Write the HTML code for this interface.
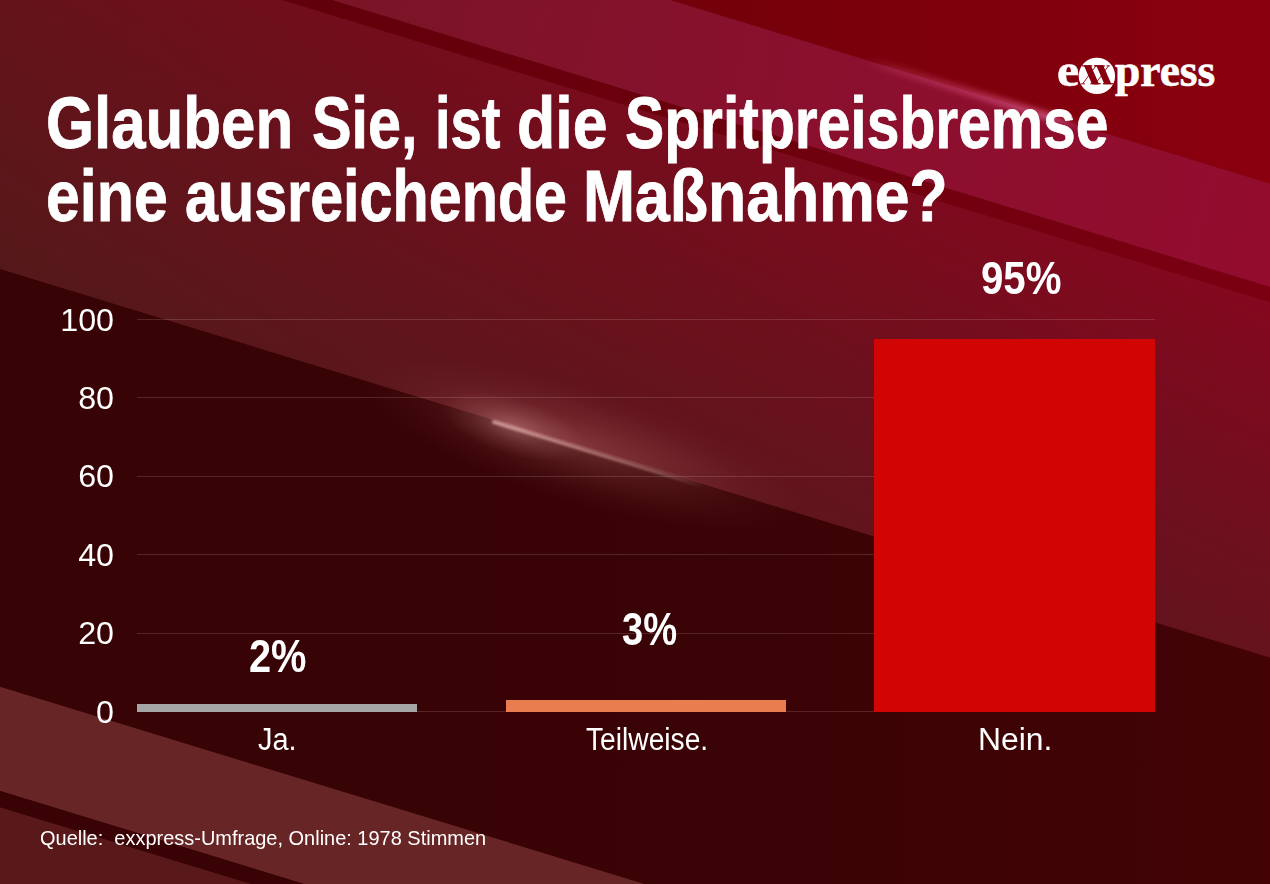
<!DOCTYPE html>
<html><head><meta charset="utf-8"><title>Umfrage</title>
<style>
html,body{margin:0;padding:0;}
body{width:1270px;height:884px;overflow:hidden;position:relative;background:#63131a;font-family:"Liberation Sans",sans-serif;color:#fff;}
.bg{position:absolute;left:0;top:0;}
.t{position:absolute;white-space:nowrap;transform-origin:0 0;line-height:1;}
.title{font-weight:bold;font-size:72px;left:45px;-webkit-text-stroke:0.8px #fff;}
.gl{position:absolute;left:137px;width:1018px;height:1px;background:rgba(255,235,235,0.145);}
.yl{position:absolute;left:20px;width:94px;text-align:right;font-size:31px;line-height:34px;transform:scaleX(1.04);transform-origin:100% 50%;}
.bar{position:absolute;}
.val{font-weight:bold;font-size:46.5px;}
.cat{font-size:31px;}
.src{font-size:21px;}
.fl{position:absolute;left:494px;top:421.6px;width:0;height:0;transform:rotate(17.01deg);transform-origin:0 0;}
.flare{position:absolute;left:-2px;top:-1.8px;width:222px;height:3.4px;border-radius:2px;background:linear-gradient(to right,rgba(255,200,200,0.62),rgba(255,195,195,0.46) 45%,rgba(255,195,195,0.30) 80%,rgba(255,195,195,0));filter:blur(1.1px);}
.glow{position:absolute;left:-200px;top:-100px;width:620px;height:200px;background:radial-gradient(ellipse 230px 58px at 290px 97px,rgba(255,170,170,0.22),rgba(255,170,170,0.11) 40%,rgba(255,170,170,0.03) 75%,rgba(255,170,170,0) 100%);}
.glow2{position:absolute;left:-120px;top:-70px;width:300px;height:140px;background:radial-gradient(ellipse 75px 28px at 140px 69px,rgba(255,190,190,0.30),rgba(255,190,190,0.10) 55%,rgba(255,190,190,0) 100%);}
.hl{position:absolute;left:866px;top:55.6px;width:224px;height:9px;transform:rotate(17.01deg);transform-origin:0 50%;background:linear-gradient(to right,rgba(255,100,160,0),rgba(255,100,160,0.16) 12%,rgba(255,110,170,0.30) 50%,rgba(255,130,185,0.46) 86%,rgba(255,110,170,0));filter:blur(2.6px);}
.lw{-webkit-text-stroke:0.6px #fff;}
.logo{position:absolute;font-family:"Liberation Serif",serif;font-weight:bold;font-size:45.5px;line-height:1;white-space:nowrap;transform-origin:0 0;}
</style></head><body>
<svg class="bg" width="1270" height="884" viewBox="0 0 1270 884">
<defs>
<linearGradient id="gA" gradientUnits="userSpaceOnUse" x1="670" y1="0" x2="1270" y2="0">
<stop offset="0" stop-color="#72000a"/><stop offset="1" stop-color="#8b000f"/></linearGradient>
<linearGradient id="gB" gradientUnits="userSpaceOnUse" x1="340" y1="0" x2="1270" y2="240">
<stop offset="0" stop-color="#7a1426"/><stop offset="0.5" stop-color="#8a102e"/><stop offset="1" stop-color="#930c2e"/></linearGradient>
<linearGradient id="gC" gradientUnits="userSpaceOnUse" x1="290" y1="0" x2="1270" y2="290">
<stop offset="0" stop-color="#61000a"/><stop offset="1" stop-color="#7b0011"/></linearGradient>
<linearGradient id="gD" gradientUnits="userSpaceOnUse" x1="0" y1="0" x2="1270" y2="0">
<stop offset="0" stop-color="#69111a"/><stop offset="0.3" stop-color="#730d1c"/><stop offset="1" stop-color="#84081f"/></linearGradient>
<linearGradient id="gD2" gradientUnits="userSpaceOnUse" x1="600" y1="97.3" x2="500.6" y2="422.1">
<stop offset="0" stop-color="#3a221a" stop-opacity="0"/><stop offset="1" stop-color="#3a221a" stop-opacity="0.42"/></linearGradient>
<linearGradient id="gE" gradientUnits="userSpaceOnUse" x1="0" y1="0" x2="1270" y2="0">
<stop offset="0" stop-color="#370305"/><stop offset="0.6" stop-color="#3a0305"/><stop offset="1" stop-color="#430305"/></linearGradient>
</defs>
<rect width="1270" height="884" fill="#63131a"/>
<polygon points="0.0,0.0 282.0,0.0 1270.0,302.3 1270.0,657.6 0.0,269.0" fill="url(#gD)"/>
<polygon points="0.0,0.0 282.0,0.0 1270.0,302.3 1270.0,657.6 0.0,269.0" fill="url(#gD2)"/>
<polygon points="669.7,0.0 1270.0,0.0 1270.0,183.7" fill="url(#gA)"/>
<polygon points="332.0,0.0 669.7,0.0 1270.0,183.7 1270.0,287.0" fill="url(#gB)"/>
<polygon points="282.0,0.0 332.0,0.0 1270.0,287.0 1270.0,302.3" fill="url(#gC)"/>
<polygon points="0.0,269.0 1270.0,657.6 1270.0,884.0 0.0,884.0" fill="url(#gE)"/>
<polygon points="0.0,686.8 644.4,884.0 303.9,884.0 0.0,791.0" fill="#672526"/>
<polygon points="0.0,791.0 303.9,884.0 251.0,884.0 0.0,807.2" fill="#390305"/>
<polygon points="0.0,807.2 251.0,884.0 0.0,884.0" fill="#59181a"/>
</svg>
<div class="fl"><div class="glow"></div><div class="glow2"></div><div class="flare"></div></div>
<div class="hl"></div>
<div class="t title" id="w1" style="left:46.28px;top:87.3px;transform:scaleX(0.858)">Glauben</div>
<div class="t title" id="w2" style="left:312.35px;top:87.3px;transform:scaleX(0.8241)">Sie,</div>
<div class="t title" id="w3" style="left:434.7px;top:87.3px;transform:scaleX(0.7805)">ist</div>
<div class="t title" id="w4" style="left:516.56px;top:87.3px;transform:scaleX(0.8701)">die</div>
<div class="t title" id="w5" style="left:625.07px;top:87.3px;transform:scaleX(0.8164)">Spritpreisbremse</div>
<div class="t title" id="w6" style="left:46.01px;top:160.3px;transform:scaleX(0.8448)">eine</div>
<div class="t title" id="w7" style="left:185.15px;top:160.3px;transform:scaleX(0.823)">ausreichende</div>
<div class="t title" id="w8" style="left:582.83px;top:160.3px;transform:scaleX(0.8683)">Maßnahme?</div>
<div class="gl" style="top:711px"></div>
<div class="yl" style="top:695.5px">0</div>
<div class="gl" style="top:633px"></div>
<div class="yl" style="top:617.1px">20</div>
<div class="gl" style="top:554px"></div>
<div class="yl" style="top:538.7px">40</div>
<div class="gl" style="top:476px"></div>
<div class="yl" style="top:460.3px">60</div>
<div class="gl" style="top:397px"></div>
<div class="yl" style="top:381.9px">80</div>
<div class="gl" style="top:319px"></div>
<div class="yl" style="top:303.5px">100</div>

<div class="bar" style="left:136.7px;top:704.1px;width:280.3px;height:7.9px;background:#a6a6a6"></div>
<div class="bar" style="left:505.7px;top:700.1px;width:280.3px;height:11.9px;background:#e97d4f"></div>
<div class="bar" style="left:874.2px;top:338.8px;width:281px;height:373.2px;background:#d20505"></div>
<div class="t val" id="v1" style="left:249.2px;top:632.6px;transform:scaleX(0.855)">2%</div>
<div class="t val" id="v2" style="left:621.5px;top:605.6px;transform:scaleX(0.82)">3%</div>
<div class="t val" id="v3" style="left:981.2px;top:255.4px;transform:scaleX(0.865)">95%</div>
<div class="t cat" id="c1" style="left:257.9px;top:724.3px;transform:scaleX(0.9325)">Ja.</div>
<div class="t cat" id="c2" style="left:585.7px;top:724.3px;transform:scaleX(0.909)">Teilweise.</div>
<div class="t cat" id="c3" style="left:977.8px;top:724.3px;transform:scaleX(1.027)">Nein.</div>
<div class="t src" id="s1" style="left:40.2px;top:827.3px;transform:scaleX(0.9508)">Quelle:&nbsp; exxpress-Umfrage, Online: 1978 Stimmen</div>
<svg class="lgsvg" width="60" height="50" viewBox="1070 50 60 50" style="position:absolute;left:1070px;top:50px">
<circle cx="1096.9" cy="75.9" r="18.2" fill="#fff"/>
<g fill="#88000e">
<polygon points="1083.8,65.3 1090.8,65.3 1099.0,84.3 1092.0,84.3"/>
<polygon points="1096.2,65.3 1103.2,65.3 1111.4,84.3 1104.4,84.3"/>
<rect x="1082" y="65.3" width="10.2" height="1.2"/>
<rect x="1094.6" y="65.3" width="10.2" height="1.2"/>
<rect x="1090.4" y="83.1" width="10.2" height="1.2"/>
<rect x="1102.8" y="83.1" width="10.2" height="1.2"/>
<rect x="1094" y="65.3" width="3.2" height="1"/>
<rect x="1106.6" y="65.3" width="3.2" height="1"/>
<rect x="1081.2" y="83.3" width="3.6" height="1"/>
<rect x="1094.2" y="83.3" width="3.6" height="1"/>
</g>
<g stroke="#88000e" stroke-width="0.9" fill="none">
<line x1="1082.8" y1="83.6" x2="1095.8" y2="66"/>
<line x1="1095.6" y1="83.6" x2="1108.4" y2="66"/>
</g>
</svg>
<div class="logo lw" id="lge" style="left:1056.7px;top:47.6px;transform:scaleX(1.1)">e</div>
<div class="logo lw" id="lgp" style="left:1115px;top:47.6px">press</div>
</body></html>
